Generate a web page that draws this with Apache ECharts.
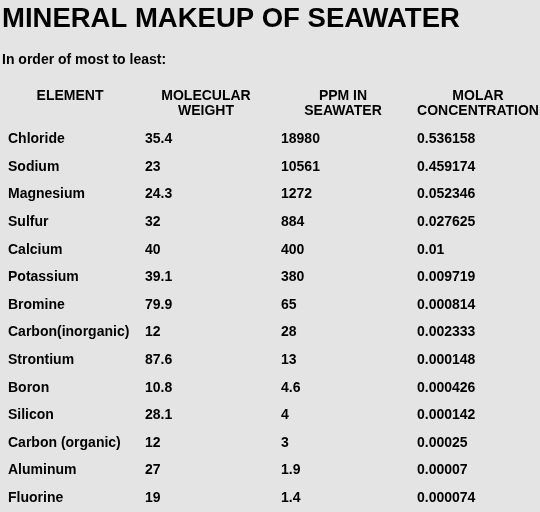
<!DOCTYPE html>
<html lang="en">
  <head>
    <meta charset="UTF-8" />
    <title>Mineral makeup of seawater</title>
    <script src="https://cdnjs.cloudflare.com/ajax/libs/echarts/6.0.0/echarts.min.js"></script>
    <style>
      body { margin: 0; }
      #main { width: 540px; height: 512px; background: #e4e4e4; }
    </style>
  </head>
  <body>
    <div id="main"></div>
    <script>
      var elements = ["Chloride", "Sodium", "Magnesium", "Sulfur", "Calcium", "Potassium", "Bromine",
        "Carbon(inorganic)", "Strontium", "Boron", "Silicon", "Carbon (organic)", "Aluminum", "Fluorine"];
      var molWeight = ["35.4", "23", "24.3", "32", "40", "39.1", "79.9", "12", "87.6", "10.8", "28.1", "12", "27", "19"];
      var ppm = ["18980", "10561", "1272", "884", "400", "380", "65", "28", "13", "4.6", "4", "3", "1.9", "1.4"];
      var molar = ["0.536158", "0.459174", "0.052346", "0.027625", "0.01", "0.009719", "0.000814",
        "0.002333", "0.000148", "0.000426", "0.000142", "0.00025", "0.00007", "0.000074"];
      var headers = ["ELEMENT", "MOLECULAR\nWEIGHT", "PPM IN\nSEAWATER", "MOLAR\nCONCENTRATION"];
      var columns = [elements, molWeight, ppm, molar];
      var colX = [8, 145, 281, 417];
      var headX = [70, 206, 343, 478];

      var font = "'Liberation Sans', Arial, sans-serif";
      var myChart = echarts.init(document.getElementById("main"));

      var series = columns.map(function (col, c) {
        return {
          type: "scatter",
          symbolSize: 0,
          itemStyle: { opacity: 1 },
          data: col.map(function (v, i) { return [colX[c], i, v]; }),
          label: {
            show: true,
            position: "right",
            distance: 0,
            opacity: 1,
            formatter: function (p) { return p.value[2]; },
            color: "#000",
            fontFamily: font,
            fontWeight: "bold",
            fontSize: 14,
          },
        };
      });

      var graphic = [
        { type: "text", left: 2, top: 5, style: { text: "MINERAL MAKEUP OF SEAWATER", font: "bold 27.5px " + font, fill: "#000" } },
        { type: "text", left: 2, top: 53, style: { text: "In order of most to least:", font: "bold 14px " + font, fill: "#000" } },
      ];
      headers.forEach(function (h, c) {
        graphic.push({
          type: "text", x: headX[c], y: 89,
          style: { text: h, font: "bold 14px " + font, fill: "#000", align: "center", lineHeight: 15 },
        });
      });

      var option = {
        animation: false,
        graphic: graphic,
        grid: { left: 0, right: 0, top: 125.4, bottom: 0 },
        xAxis: { type: "value", min: 0, max: 540, show: false },
        yAxis: { type: "category", data: elements, inverse: true, show: false },
        series: series,
      };
      myChart.setOption(option);
    </script>
  </body>
</html>
